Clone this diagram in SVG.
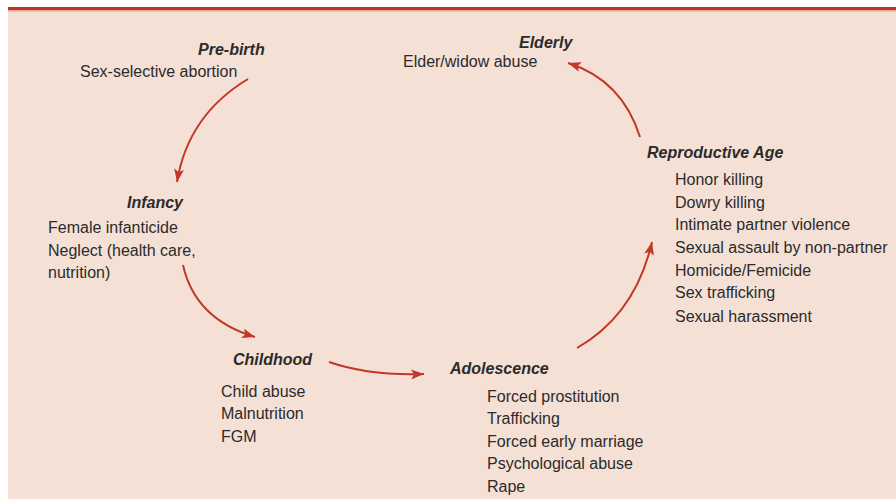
<svg xmlns="http://www.w3.org/2000/svg" width="896" height="499" viewBox="0 0 896 499">
<defs>
<style>
.t{font-family:"Liberation Sans",Arial,sans-serif;font-size:16px;fill:#2b2b2b}
.h{font-family:"Liberation Sans",Arial,sans-serif;font-size:16px;font-weight:bold;font-style:italic;fill:#2b2b2b}
.c{fill:none;stroke:#c1372a;stroke-width:2}
</style>
<marker id="ah" markerUnits="userSpaceOnUse" markerWidth="14" markerHeight="10" refX="13" refY="5" orient="auto">
<path d="M0,0 L13,5 L0,10 L3,5 z" fill="#c1372a"/>
</marker>
</defs>
<rect width="896" height="499" fill="#ffffff"/>
<rect x="8" y="7" width="888" height="492" fill="#f5e0d6"/>
<rect x="8" y="7" width="888" height="3" fill="#bf3424"/>
<rect x="8" y="10" width="888" height="1.5" fill="#eaa898"/>

<g id="connectors">
<path class="c" marker-end="url(#ah)" d="M248,79 Q188,115 177,182"/>
<path class="c" marker-end="url(#ah)" d="M183,265 Q195,319 255,337"/>
<path class="c" marker-end="url(#ah)" d="M329,362 Q370,376 424,374"/>
<path class="c" marker-end="url(#ah)" d="M577,348 Q635,315 652,242"/>
<path class="c" marker-end="url(#ah)" d="M640,137 Q622,80 568,63"/>
</g>

<g id="prebirth">
<text class="h" x="198" y="55">Pre-birth</text>
<text class="t" x="80" y="77">Sex-selective abortion</text>
</g>
<g id="infancy">
<text class="h" x="127" y="208">Infancy</text>
<text class="t" x="48" y="233">Female infanticide</text>
<text class="t" x="48" y="256">Neglect (health care,</text>
<text class="t" x="48" y="278">nutrition)</text>
</g>
<g id="childhood">
<text class="h" x="233" y="365">Childhood</text>
<text class="t" x="221" y="397">Child abuse</text>
<text class="t" x="221" y="419">Malnutrition</text>
<text class="t" x="221" y="442">FGM</text>
</g>
<g id="adolescence">
<text class="h" x="450" y="374">Adolescence</text>
<text class="t" x="487" y="402">Forced prostitution</text>
<text class="t" x="487" y="424">Trafficking</text>
<text class="t" x="487" y="447">Forced early marriage</text>
<text class="t" x="487" y="469">Psychological abuse</text>
<text class="t" x="487" y="492">Rape</text>
</g>
<g id="reproductive">
<text class="h" x="647" y="158">Reproductive Age</text>
<text class="t" x="675" y="185">Honor killing</text>
<text class="t" x="675" y="208">Dowry killing</text>
<text class="t" x="675" y="230">Intimate partner violence</text>
<text class="t" x="675" y="253">Sexual assault by non-partner</text>
<text class="t" x="675" y="276">Homicide/Femicide</text>
<text class="t" x="675" y="298">Sex trafficking</text>
<text class="t" x="675" y="322">Sexual harassment</text>
</g>
<g id="elderly">
<text class="h" x="519" y="48">Elderly</text>
<text class="t" x="403" y="67">Elder/widow abuse</text>
</g>
</svg>
